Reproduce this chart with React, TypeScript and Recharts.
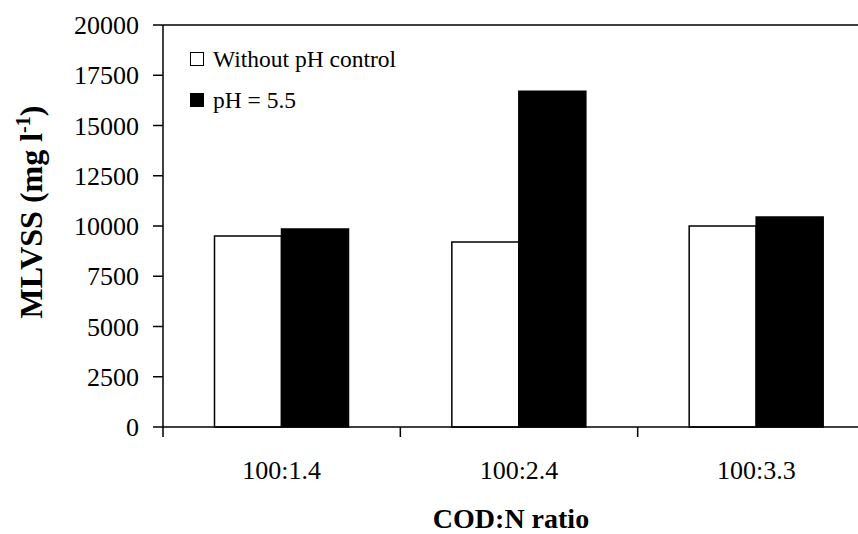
import { Bar, BarChart, Legend, ReferenceLine, XAxis, YAxis } from "recharts";

// categorias e valores
const categories = ["100:1.4", "100:2.4", "100:3.3"];
const withoutPhControl = [9500, 9200, 10000];
const ph55 = [9850, 16700, 10450];
const yTicks = [0, 2500, 5000, 7500, 10000, 12500, 15000, 17500, 20000];
const seriesNames = ["Without pH control", "pH = 5.5"];

const data = categories.map((name, i) => ({
  name,
  without: withoutPhControl[i],
  ph: ph55[i],
}));

const FONT = '"Liberation Serif", "Times New Roman", serif';
const CHART_W = 880;
const CHART_H = 534;
const LEFT = 163;
const RIGHT_MARGIN = 5;
const BAND = (CHART_W - LEFT - RIGHT_MARGIN) / categories.length;
const AXIS_Y = 427;

// tick do eixo X: traço na fronteira entre categorias, texto no centro
function CategoryTick(props: any) {
  const { x, payload } = props;
  const bx = x - BAND / 2;
  return (
    <g>
      <line x1={bx} y1={AXIS_Y} x2={bx} y2={AXIS_Y + 10} stroke="#000" strokeWidth={1.5} />
      <text x={x} y={AXIS_Y + 52} textAnchor="middle" fontFamily={FONT} fontSize={26} fill="#000">
        {payload.value}
      </text>
    </g>
  );
}

function XTitle() {
  return (
    <text x={511} y={528} textAnchor="middle" fontFamily={FONT} fontWeight="bold" fontSize={28} fill="#000">
      COD:N ratio
    </text>
  );
}

function YTitle() {
  return (
    <text
      x={212}
      y={42}
      transform="rotate(-90) translate(-424 0)"
      textAnchor="middle"
      fontFamily={FONT}
      fontWeight="bold"
      fontSize={32}
      fill="#000"
    >
      MLVSS  (mg l
      <tspan dy={-12} fontSize={20}>-1</tspan>
      <tspan dy={12}>)</tspan>
    </text>
  );
}

function LegendBox() {
  const fills = ["#fff", "#000"];
  return (
    <div style={{ fontFamily: FONT, fontSize: 23.5, color: "#000", lineHeight: "41px" }}>
      {seriesNames.map((n, i) => (
        <div key={n} style={{ display: "flex", alignItems: "center", whiteSpace: "nowrap" }}>
          <span
            style={{
              display: "inline-block",
              boxSizing: "border-box",
              width: 14,
              height: 14,
              background: fills[i],
              border: "1.5px solid #000",
              marginRight: 9,
            }}
          />
          {n}
        </div>
      ))}
    </div>
  );
}

export default function App() {
  return (
    <div style={{ position: "absolute", left: 0, top: 0, width: 858, height: 534, overflow: "hidden", background: "#fff" }}>
      <BarChart
        width={CHART_W}
        height={CHART_H}
        data={data}
        margin={{ top: 25, right: RIGHT_MARGIN, left: 0, bottom: 0 }}
        barCategoryGap="21.7%"
        barGap={0}
      >
        <XAxis
          dataKey="name"
          height={CHART_H - AXIS_Y}
          axisLine={{ stroke: "#000", strokeWidth: 1.5 }}
          tickLine={false}
          tick={<CategoryTick />}
          interval={0}
          label={<XTitle />}
        />
        <YAxis
          width={LEFT}
          domain={[0, 20000]}
          ticks={yTicks}
          interval={0}
          tickSize={10}
          tickMargin={14}
          axisLine={{ stroke: "#000", strokeWidth: 1.5 }}
          tickLine={{ stroke: "#000", strokeWidth: 1.5 }}
          tick={{ fill: "#000", fontFamily: FONT, fontSize: 26 }}
          label={<YTitle />}
        />
        <ReferenceLine y={20000} stroke="#000" strokeWidth={1.5} />
        <Legend
          layout="vertical"
          align="center"
          verticalAlign="middle"
          wrapperStyle={{ position: "absolute", top: 38.5, left: 190, width: 300 }}
          content={<LegendBox />}
        />
        <Bar dataKey="without" name={seriesNames[0]} fill="#fff" stroke="#000" strokeWidth={1.5} isAnimationActive={false} />
        <Bar dataKey="ph" name={seriesNames[1]} fill="#000" stroke="#000" strokeWidth={1.5} isAnimationActive={false} />
      </BarChart>
    </div>
  );
}
